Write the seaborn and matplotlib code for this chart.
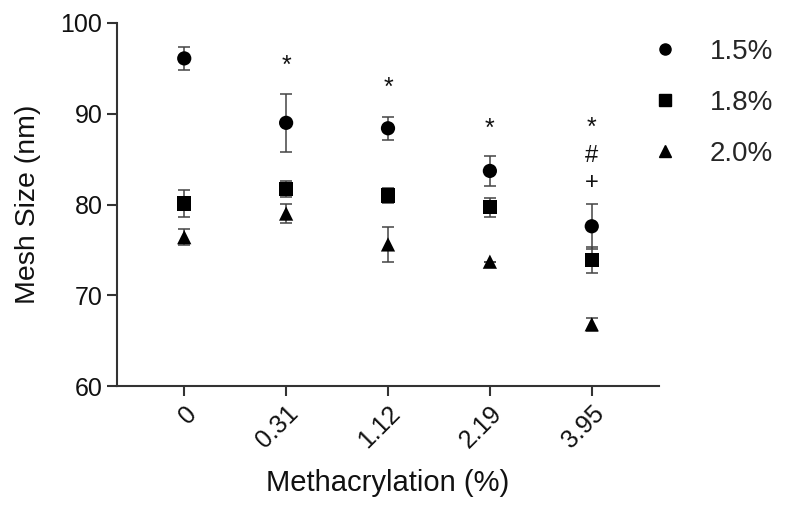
import matplotlib
matplotlib.use("Agg")
import matplotlib.pyplot as plt
from matplotlib.lines import Line2D
import seaborn as sns
import pandas as pd

categories = ["0", "0.31", "1.12", "2.19", "3.95"]
series_names = ["1.5%", "1.8%", "2.0%"]
mean_15 = [96.1, 89.0, 88.4, 83.7, 77.6]
err_15 = [1.3, 3.2, 1.25, 1.65, 2.45]
mean_18 = [80.1, 81.7, 81.0, 79.7, 73.9]
err_18 = [1.5, 0.9, 0.8, 1.05, 1.4]
mean_20 = [76.4, 79.0, 75.6, 73.7, 66.8]
err_20 = [0.9, 1.05, 1.9, 0.0, 0.7]

annot_cats = ["0.31", "1.12", "2.19", "3.95", "3.95", "3.95"]
annot_y = [95.3, 92.9, 88.3, 88.4, 85.3, 82.4]
annot_sym = ["*", "*", "*", "*", "#", "+"]

means = [mean_15, mean_18, mean_20]
errs = [err_15, err_18, err_20]
markers = ["o", "s", "^"]

rows = []
for name, m, e in zip(series_names, means, errs):
    for c, v, ee in zip(categories, m, e):
        rows.append({"Methacrylation": c, "Mesh": v, "err": ee, "Conc": name})
df = pd.DataFrame(rows)

sns.set_theme(style="ticks")
plt.rcParams["font.family"] = ["Liberation Sans", "DejaVu Sans"]

fig = plt.figure(figsize=(7.85, 5.13), dpi=100)
ax = fig.add_axes([117 / 785, (513 - 386) / 513, (659 - 117) / 785, (386 - 23) / 513])

axis_col = "#333333"
for name, m, e, mk in zip(series_names, means, errs, markers):
    ax.errorbar(categories, m, yerr=e, fmt="none", ecolor="#444444",
                elinewidth=1.1, capsize=4.5, capthick=1.1, zorder=2)

sns.scatterplot(data=df, x="Methacrylation", y="Mesh", style="Conc",
                markers=dict(zip(series_names, markers)), color="black",
                s=105, edgecolor="black", linewidth=0, ax=ax, zorder=3,
                legend=False)

for c, y, s in zip(annot_cats, annot_y, annot_sym):
    ax.text(categories.index(c), y, s, ha="center", va="center",
            fontsize=18 if s == "*" else 17, color="#111111")

ax.set_xlim(-0.66, 4.66)
ax.set_ylim(60, 100)
ax.set_yticks([60, 70, 80, 90, 100])
ax.set_xticks(range(len(categories)))
ax.set_xticklabels(categories, rotation=45, ha="right", rotation_mode="anchor")
ax.tick_params(axis="both", labelsize=18, length=7, width=1.5, color=axis_col,
               labelcolor="#111111")
ax.tick_params(axis="x", pad=4)
for side in ["left", "bottom"]:
    ax.spines[side].set_linewidth(1.5)
    ax.spines[side].set_color(axis_col)
sns.despine(ax=ax)
ax.set_xlabel("Methacrylation (%)", fontsize=21, color="#111111", labelpad=12)
ax.set_ylabel("Mesh Size (nm)", fontsize=20.5, color="#111111", labelpad=14)

handles = [Line2D([], [], linestyle="none", marker=mk, color="black",
                  markersize=8) for mk in markers]
fig.legend(handles, series_names, loc="upper left",
           bbox_to_anchor=(651 / 785, 1 - 39 / 513),
           bbox_transform=fig.transFigure,
           frameon=False, fontsize=20, handlelength=1.0, handletextpad=1.12,
           labelspacing=0.9, borderaxespad=0, borderpad=0)

fig.savefig("out.png", dpi=100)
